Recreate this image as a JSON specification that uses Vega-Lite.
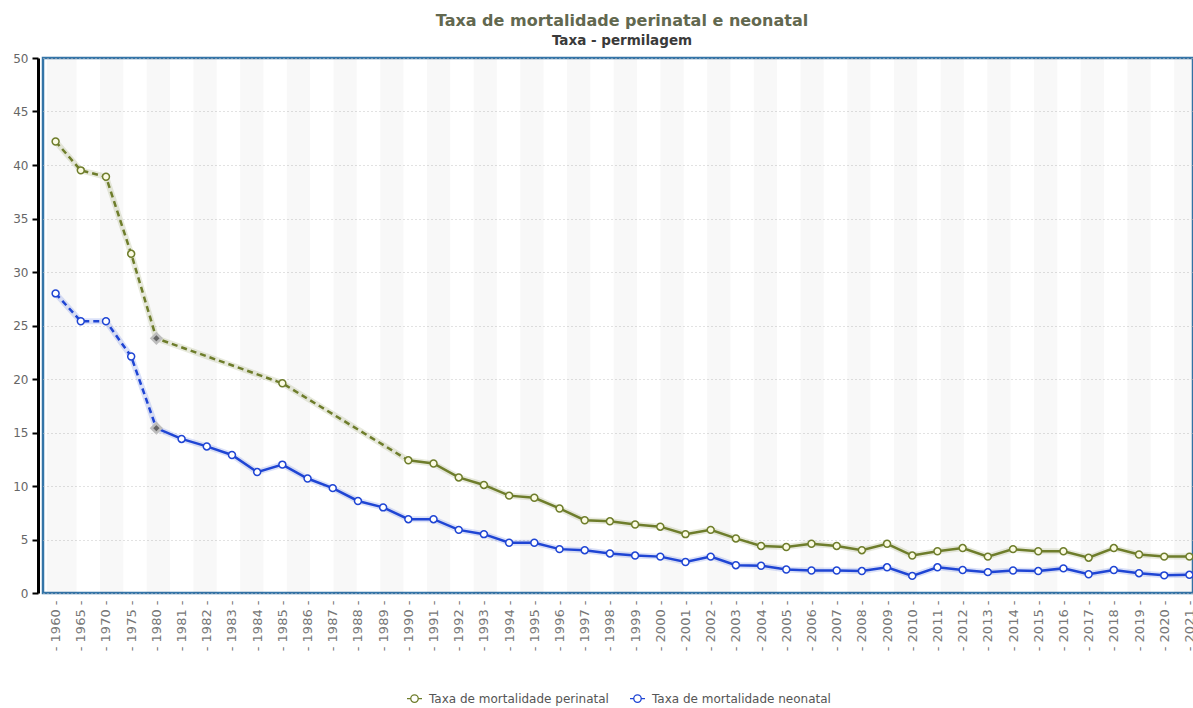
{
  "$schema": "https://vega.github.io/schema/vega-lite/v6.json",
  "width": 1150,
  "height": 535,
  "autosize": "none",
  "padding": {"left": 43, "top": 58, "right": 0, "bottom": 115},
  "title": {
    "text": "Taxa de mortalidade perinatal e neonatal",
    "subtitle": "Taxa - permilagem",
    "anchor": "middle",
    "dx": 4,
    "offset": 5,
    "font": "DejaVu Sans",
    "fontSize": 16,
    "fontWeight": "bold",
    "color": "#62684f",
    "subtitleFont": "DejaVu Sans",
    "subtitleFontSize": 13.5,
    "subtitleFontWeight": "bold",
    "subtitleColor": "#3a3a3a",
    "subtitlePadding": 5
  },
  "datasets": {
    "faixas": [
      {"b0": 0.17, "b1": 1.44}, {"b0": 2.44, "b1": 3.44}, {"b0": 4.44, "b1": 5.44},
      {"b0": 6.44, "b1": 7.44}, {"b0": 8.44, "b1": 9.44}, {"b0": 10.44, "b1": 11.44},
      {"b0": 12.44, "b1": 13.44}, {"b0": 14.44, "b1": 15.44}, {"b0": 16.44, "b1": 17.44},
      {"b0": 18.44, "b1": 19.44}, {"b0": 20.44, "b1": 21.44}, {"b0": 22.44, "b1": 23.44},
      {"b0": 24.44, "b1": 25.44}, {"b0": 26.44, "b1": 27.44}, {"b0": 28.44, "b1": 29.44},
      {"b0": 30.44, "b1": 31.44}, {"b0": 32.44, "b1": 33.44}, {"b0": 34.44, "b1": 35.44},
      {"b0": 36.44, "b1": 37.44}, {"b0": 38.44, "b1": 39.44}, {"b0": 40.44, "b1": 41.44},
      {"b0": 42.44, "b1": 43.44}, {"b0": 44.44, "b1": 45.44}, {"b0": 46.44, "b1": 47.44},
      {"b0": 48.44, "b1": 49.25}
    ],
    "taxas": [
      {"ano": 1960, "serie": "Taxa de mortalidade perinatal", "valor": 42.2},
      {"ano": 1965, "serie": "Taxa de mortalidade perinatal", "valor": 39.5},
      {"ano": 1970, "serie": "Taxa de mortalidade perinatal", "valor": 38.9},
      {"ano": 1975, "serie": "Taxa de mortalidade perinatal", "valor": 31.7},
      {"ano": 1980, "serie": "Taxa de mortalidade perinatal", "valor": 23.8},
      {"ano": 1985, "serie": "Taxa de mortalidade perinatal", "valor": 19.6},
      {"ano": 1990, "serie": "Taxa de mortalidade perinatal", "valor": 12.4},
      {"ano": 1991, "serie": "Taxa de mortalidade perinatal", "valor": 12.1},
      {"ano": 1992, "serie": "Taxa de mortalidade perinatal", "valor": 10.8},
      {"ano": 1993, "serie": "Taxa de mortalidade perinatal", "valor": 10.1},
      {"ano": 1994, "serie": "Taxa de mortalidade perinatal", "valor": 9.1},
      {"ano": 1995, "serie": "Taxa de mortalidade perinatal", "valor": 8.9},
      {"ano": 1996, "serie": "Taxa de mortalidade perinatal", "valor": 7.9},
      {"ano": 1997, "serie": "Taxa de mortalidade perinatal", "valor": 6.8},
      {"ano": 1998, "serie": "Taxa de mortalidade perinatal", "valor": 6.7},
      {"ano": 1999, "serie": "Taxa de mortalidade perinatal", "valor": 6.4},
      {"ano": 2000, "serie": "Taxa de mortalidade perinatal", "valor": 6.2},
      {"ano": 2001, "serie": "Taxa de mortalidade perinatal", "valor": 5.5},
      {"ano": 2002, "serie": "Taxa de mortalidade perinatal", "valor": 5.9},
      {"ano": 2003, "serie": "Taxa de mortalidade perinatal", "valor": 5.1},
      {"ano": 2004, "serie": "Taxa de mortalidade perinatal", "valor": 4.4},
      {"ano": 2005, "serie": "Taxa de mortalidade perinatal", "valor": 4.3},
      {"ano": 2006, "serie": "Taxa de mortalidade perinatal", "valor": 4.6},
      {"ano": 2007, "serie": "Taxa de mortalidade perinatal", "valor": 4.4},
      {"ano": 2008, "serie": "Taxa de mortalidade perinatal", "valor": 4.0},
      {"ano": 2009, "serie": "Taxa de mortalidade perinatal", "valor": 4.6},
      {"ano": 2010, "serie": "Taxa de mortalidade perinatal", "valor": 3.5},
      {"ano": 2011, "serie": "Taxa de mortalidade perinatal", "valor": 3.9},
      {"ano": 2012, "serie": "Taxa de mortalidade perinatal", "valor": 4.2},
      {"ano": 2013, "serie": "Taxa de mortalidade perinatal", "valor": 3.4},
      {"ano": 2014, "serie": "Taxa de mortalidade perinatal", "valor": 4.1},
      {"ano": 2015, "serie": "Taxa de mortalidade perinatal", "valor": 3.9},
      {"ano": 2016, "serie": "Taxa de mortalidade perinatal", "valor": 3.9},
      {"ano": 2017, "serie": "Taxa de mortalidade perinatal", "valor": 3.3},
      {"ano": 2018, "serie": "Taxa de mortalidade perinatal", "valor": 4.2},
      {"ano": 2019, "serie": "Taxa de mortalidade perinatal", "valor": 3.6},
      {"ano": 2020, "serie": "Taxa de mortalidade perinatal", "valor": 3.4},
      {"ano": 2021, "serie": "Taxa de mortalidade perinatal", "valor": 3.4},
      {"ano": 1960, "serie": "Taxa de mortalidade neonatal", "valor": 28.0},
      {"ano": 1965, "serie": "Taxa de mortalidade neonatal", "valor": 25.4},
      {"ano": 1970, "serie": "Taxa de mortalidade neonatal", "valor": 25.4},
      {"ano": 1975, "serie": "Taxa de mortalidade neonatal", "valor": 22.1},
      {"ano": 1980, "serie": "Taxa de mortalidade neonatal", "valor": 15.4},
      {"ano": 1981, "serie": "Taxa de mortalidade neonatal", "valor": 14.4},
      {"ano": 1982, "serie": "Taxa de mortalidade neonatal", "valor": 13.7},
      {"ano": 1983, "serie": "Taxa de mortalidade neonatal", "valor": 12.9},
      {"ano": 1984, "serie": "Taxa de mortalidade neonatal", "valor": 11.3},
      {"ano": 1985, "serie": "Taxa de mortalidade neonatal", "valor": 12.0},
      {"ano": 1986, "serie": "Taxa de mortalidade neonatal", "valor": 10.7},
      {"ano": 1987, "serie": "Taxa de mortalidade neonatal", "valor": 9.8},
      {"ano": 1988, "serie": "Taxa de mortalidade neonatal", "valor": 8.6},
      {"ano": 1989, "serie": "Taxa de mortalidade neonatal", "valor": 8.0},
      {"ano": 1990, "serie": "Taxa de mortalidade neonatal", "valor": 6.9},
      {"ano": 1991, "serie": "Taxa de mortalidade neonatal", "valor": 6.9},
      {"ano": 1992, "serie": "Taxa de mortalidade neonatal", "valor": 5.9},
      {"ano": 1993, "serie": "Taxa de mortalidade neonatal", "valor": 5.5},
      {"ano": 1994, "serie": "Taxa de mortalidade neonatal", "valor": 4.7},
      {"ano": 1995, "serie": "Taxa de mortalidade neonatal", "valor": 4.7},
      {"ano": 1996, "serie": "Taxa de mortalidade neonatal", "valor": 4.1},
      {"ano": 1997, "serie": "Taxa de mortalidade neonatal", "valor": 4.0},
      {"ano": 1998, "serie": "Taxa de mortalidade neonatal", "valor": 3.7},
      {"ano": 1999, "serie": "Taxa de mortalidade neonatal", "valor": 3.5},
      {"ano": 2000, "serie": "Taxa de mortalidade neonatal", "valor": 3.4},
      {"ano": 2001, "serie": "Taxa de mortalidade neonatal", "valor": 2.9},
      {"ano": 2002, "serie": "Taxa de mortalidade neonatal", "valor": 3.4},
      {"ano": 2003, "serie": "Taxa de mortalidade neonatal", "valor": 2.6},
      {"ano": 2004, "serie": "Taxa de mortalidade neonatal", "valor": 2.55},
      {"ano": 2005, "serie": "Taxa de mortalidade neonatal", "valor": 2.2},
      {"ano": 2006, "serie": "Taxa de mortalidade neonatal", "valor": 2.1},
      {"ano": 2007, "serie": "Taxa de mortalidade neonatal", "valor": 2.1},
      {"ano": 2008, "serie": "Taxa de mortalidade neonatal", "valor": 2.05},
      {"ano": 2009, "serie": "Taxa de mortalidade neonatal", "valor": 2.4},
      {"ano": 2010, "serie": "Taxa de mortalidade neonatal", "valor": 1.6},
      {"ano": 2011, "serie": "Taxa de mortalidade neonatal", "valor": 2.4},
      {"ano": 2012, "serie": "Taxa de mortalidade neonatal", "valor": 2.15},
      {"ano": 2013, "serie": "Taxa de mortalidade neonatal", "valor": 1.95},
      {"ano": 2014, "serie": "Taxa de mortalidade neonatal", "valor": 2.1},
      {"ano": 2015, "serie": "Taxa de mortalidade neonatal", "valor": 2.05},
      {"ano": 2016, "serie": "Taxa de mortalidade neonatal", "valor": 2.3},
      {"ano": 2017, "serie": "Taxa de mortalidade neonatal", "valor": 1.75},
      {"ano": 2018, "serie": "Taxa de mortalidade neonatal", "valor": 2.15},
      {"ano": 2019, "serie": "Taxa de mortalidade neonatal", "valor": 1.85},
      {"ano": 2020, "serie": "Taxa de mortalidade neonatal", "valor": 1.65},
      {"ano": 2021, "serie": "Taxa de mortalidade neonatal", "valor": 1.7}
    ]
  },
  "layer": [
    {
      "data": {"name": "faixas"},
      "mark": {"type": "rect", "color": "#000000", "opacity": 0.028},
      "encoding": {
        "x": {"field": "b0", "type": "quantitative", "scale": {"domain": [0, 49.25], "nice": false, "zero": false}, "axis": null},
        "x2": {"field": "b1"}
      }
    },
    {
      "data": {"name": "taxas"},
      "encoding": {
        "x": {
          "field": "ano",
          "type": "ordinal",
          "scale": {"range": [0, 1159]},
          "axis": {
            "orient": "bottom",
            "domain": false,
            "ticks": false,
            "grid": false,
            "title": null,
            "labelAngle": -90,
            "labelAlign": "right",
            "labelBaseline": "middle",
            "labelPadding": 7,
            "labelColor": "#777777",
            "labelFont": "DejaVu Sans",
            "labelFontSize": 13,
            "labelOverlap": false,
            "labelExpr": "'- ' + datum.label + ' -'"
          }
        },
        "y": {
          "field": "valor",
          "type": "quantitative",
          "scale": {"domain": [0, 50], "nice": false},
          "axis": {
            "orient": "left",
            "offset": 5,
            "title": null,
            "values": [0, 5, 10, 15, 20, 25, 30, 35, 40, 45, 50],
            "domainColor": "#000000",
            "domainWidth": 3,
            "tickColor": "#000000",
            "tickWidth": 2,
            "tickSize": 6,
            "labelColor": "#666666",
            "labelFont": "DejaVu Sans",
            "labelFontSize": 12,
            "labelPadding": 4,
            "grid": true,
            "gridColor": "#c4c4c4",
            "gridDash": [1, 3],
            "gridWidth": 1
          }
        },
        "stroke": {
          "field": "serie",
          "type": "nominal",
          "scale": {
            "domain": ["Taxa de mortalidade perinatal", "Taxa de mortalidade neonatal"],
            "range": ["#6e7d2b", "#1f45d4"]
          },
          "legend": {
            "title": null,
            "orient": "bottom",
            "direction": "horizontal",
            "offset": 39,
            "labelFont": "DejaVu Sans",
            "labelFontSize": 12,
            "labelColor": "#555555",
            "labelLimit": 0,
            "labelOffset": 6,
            "symbolType": "M-1,0L-0.5,0M0.5,0L1,0M0.5,0A0.5,0.5,0,1,1,-0.5,0A0.5,0.5,0,1,1,0.5,0",
            "symbolSize": 225,
            "symbolStrokeWidth": 1.3,
            "symbolFillColor": "#ffffff",
            "symbolOpacity": 1,
            "columnPadding": 18
          }
        }
      },
      "layer": [
        {
          "mark": {"type": "line", "strokeWidth": 6, "opacity": 0.16}
        },
        {
          "transform": [{"filter": "(datum.serie == 'Taxa de mortalidade perinatal' && datum.ano <= 1990) || (datum.serie == 'Taxa de mortalidade neonatal' && datum.ano <= 1980)"}],
          "mark": {"type": "line", "strokeWidth": 2.5, "strokeDash": [6, 4]}
        },
        {
          "transform": [{"filter": "(datum.serie == 'Taxa de mortalidade perinatal' && datum.ano >= 1990) || (datum.serie == 'Taxa de mortalidade neonatal' && datum.ano >= 1980)"}],
          "mark": {"type": "line", "strokeWidth": 2.5}
        },
        {
          "transform": [{"filter": "datum.ano != 1980"}],
          "mark": {"type": "point", "shape": "circle", "size": 48, "strokeWidth": 1.5, "opacity": 1},
          "encoding": {
            "fill": {
              "condition": {"test": "datum.serie == 'Taxa de mortalidade perinatal'", "value": "#fbfbe3"},
              "value": "#ffffff"
            }
          }
        },
        {
          "transform": [{"filter": "datum.ano == 1980"}],
          "mark": {"type": "point", "shape": "diamond", "size": 95, "strokeWidth": 2.5, "opacity": 1, "filled": true},
          "encoding": {
            "fill": {"value": "#666666"},
            "stroke": {"value": "#bdbdbd"}
          }
        }
      ]
    }
  ],
  "resolve": {"scale": {"x": "independent"}},
  "config": {
    "view": {"stroke": "#3575a8", "strokeWidth": 2.5},
    "legend": {"layout": {"bottom": {"anchor": "middle"}}}
  }
}
